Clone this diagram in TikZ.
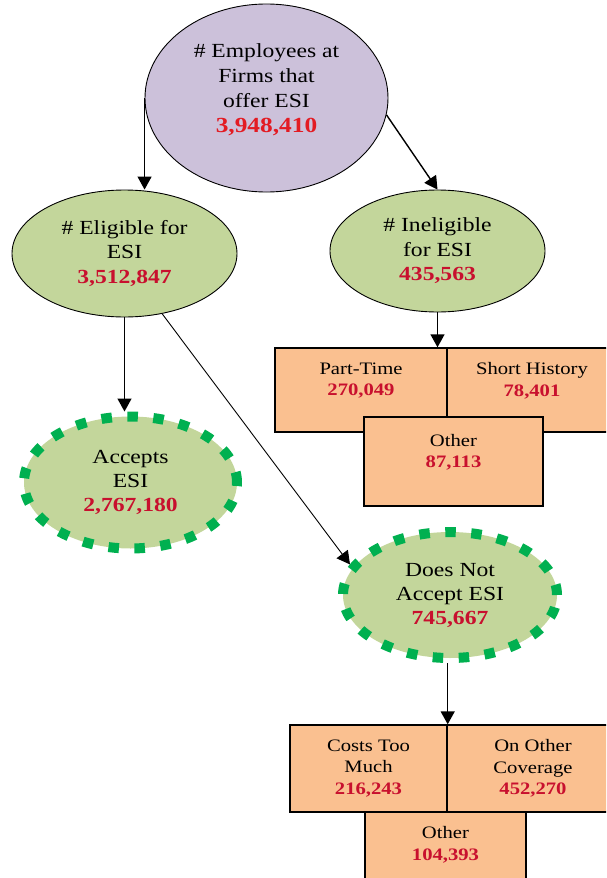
\documentclass[tikz,border=0pt]{standalone}
\usepackage{fontspec}
\setmainfont{Liberation Serif}[FakeStretch=1.18]
\usetikzlibrary{shapes.geometric,arrows.meta}
\definecolor{lav}{HTML}{CCC1DA}
\definecolor{olive}{HTML}{C3D69B}
\definecolor{dgreen}{HTML}{00B050}
\definecolor{peach}{HTML}{FAC090}
\definecolor{numred}{HTML}{C8102E}
\definecolor{topred}{HTML}{E31B23}
\newcommand{\nm}[1]{\textbf{\textcolor{numred}{#1}}}
\tikzset{
  ell/.style={ellipse, draw=black, line width=0.9pt, inner sep=0pt, align=center,
    font=\fontsize{20}{24.5}\selectfont},
  dell/.style={ellipse, draw=dgreen, fill=olive, line width=10pt, dash pattern=on 10.5pt off 15.5pt,
    inner sep=0pt, align=center, font=\fontsize{20}{24}\selectfont},
  txt/.style={align=center, inner sep=0pt, font=\fontsize{20}{25}\selectfont},
  boxn/.style={rectangle, draw=black, fill=peach, line width=1.4pt, inner sep=0pt, align=center,
    font=\fontsize{17.5}{21.5}\selectfont},
  arr/.style={-{Triangle[length=13pt,width=14pt]}, line width=1.4pt},
  thinarr/.style={-{Triangle[length=13pt,width=14pt]}, line width=0.9pt}
}
\begin{document}
\begin{tikzpicture}[x=1pt,y=-1pt]
\useasboundingbox (0,0) rectangle (606,878);
\clip (0,0) rectangle (606,878);
% ellipses
\node[ell, fill=lav, minimum width=243pt, minimum height=188pt] (top) at (266.5,98) {};
\node[txt] (topt) at (266.5,90) {\# Employees at\\Firms that\\offer ESI\\{\fontsize{21.5}{25}\selectfont\textbf{\textcolor{topred}{3,948,410}}}};
\node[ell, fill=olive, minimum width=225pt, minimum height=127pt] (elig) at (124.5,253.5) {\# Eligible for\\ESI\\\nm{3,512,847}};
\node[ell, fill=olive, minimum width=215pt, minimum height=122pt] (inel) at (437.5,251) {\# Ineligible\\for ESI\\\nm{435,563}};
\node[dell, minimum width=213pt, minimum height=132pt] (acc) at (130.5,482.5) {Accepts\\ESI\\\nm{2,767,180}};
\node[dell, minimum width=214pt, minimum height=126pt] (dna) at (450,595) {Does Not\\Accept ESI\\\nm{745,667}};
% boxes
\node[boxn, minimum width=172pt, minimum height=84pt] (pt) at (361,390) {Part-Time\\\nm{270,049}\\~};
\node[boxn, minimum width=170pt, minimum height=84pt] (sh) at (532,390) {Short History\\\nm{78,401}\\~};
\node[boxn, minimum width=179pt, minimum height=89pt] (o1) at (453.5,461.5) {Other\\\nm{87,113}\\~};
\node[boxn, minimum width=157pt, minimum height=87pt] (cost) at (368.5,768.5) {Costs Too\\Much\\\nm{216,243}};
\node[boxn, minimum width=172pt, minimum height=87pt] (ooc) at (533,768.5) {On Other\\Coverage\\\nm{452,270}};
\node[boxn, minimum width=161pt, minimum height=84pt] (o2) at (445.5,854) {Other\\\nm{104,393}\\~};
% connectors
\draw[arr] (top.west) -- (top.west |- elig.north);
\draw[arr] (top.-8) -- (inel.north);
\draw[arr] (elig.south) -- (elig.south |- acc.north);
\draw[thinarr] (elig.-58) -- (dna.163);
\draw[arr] (inel.south) -- (inel.south |- pt.north);
\draw[arr] (dna.south -| cost.north east) -- (cost.north east);
\end{tikzpicture}
\end{document}
